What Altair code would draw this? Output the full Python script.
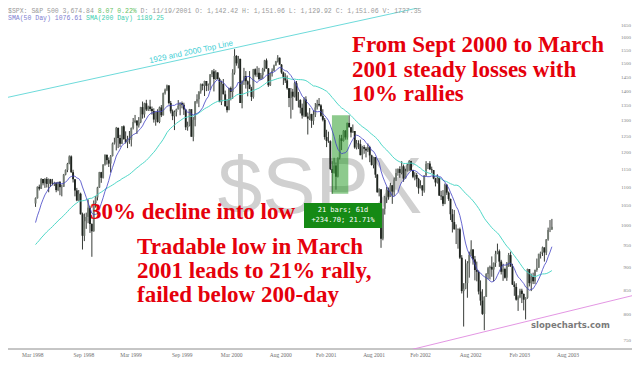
import altair as alt
import pandas as pd

# ---------------- data (weekly S&P 500 bars) ----------------
# closes before the visible window, only used to warm up the moving averages
warm_close = [848, 858, 893, 898, 887, 916, 917, 915, 938, 947, 933, 900, 923, 899,
              929, 923, 950, 945, 965, 966, 944, 941, 915, 927, 928, 963, 955, 983,
              954, 946, 936, 975, 927, 961, 957, 980, 1003, 1021, 1035, 1049, 1055]

cl_1998 = [1069, 1100, 1095, 1122, 1110, 1122, 1108, 1121, 1109, 1108, 1111, 1091,
           1113, 1099, 1100, 1134, 1147, 1165, 1187, 1141, 1121, 1090, 1063, 1081, 1027,
           973, 1009, 1020, 1044, 1002, 984, 1056, 1071, 1098, 1141, 1125, 1163, 1192,
           1176, 1166, 1188, 1226, 1229]
hi_1998 = [1071, 1101, 1106, 1124, 1122, 1124, 1127, 1123, 1122, 1122, 1114, 1113,
           1114, 1116, 1106, 1136, 1149, 1168, 1190, 1190, 1148, 1121, 1097, 1091, 1084,
           1031, 1029, 1031, 1066, 1049, 1004, 1063, 1075, 1100, 1142, 1142, 1164, 1193,
           1192, 1184, 1191, 1229, 1244]
lo_1998 = [1046, 1068, 1090, 1094, 1104, 1097, 1098, 1085, 1100, 1104, 1102, 1085,
           1088, 1077, 1074, 1100, 1132, 1141, 1164, 1139, 1112, 1074, 1061, 1062, 1026,
           940, 960, 990, 1004, 980, 923, 983, 1044, 1063, 1097, 1111, 1123, 1160,
           1163, 1156, 1140, 1187, 1223]

cl_1999 = [1275, 1243, 1225, 1280, 1239, 1230, 1239, 1238, 1275, 1294, 1299, 1283,
           1293, 1343, 1319, 1356, 1335, 1345, 1337, 1330, 1302, 1327, 1294, 1342, 1316,
           1391, 1403, 1418, 1357, 1329, 1313, 1327, 1336, 1348, 1357, 1351, 1335, 1277,
           1282, 1336, 1247, 1301, 1362, 1370, 1397, 1422, 1417, 1434, 1417, 1421, 1458, 1469]
hi_1999 = [1278, 1276, 1253, 1280, 1283, 1264, 1250, 1265, 1276, 1307, 1317, 1298,
           1310, 1344, 1362, 1358, 1368, 1348, 1368, 1345, 1339, 1328, 1336, 1345, 1350,
           1393, 1407, 1421, 1419, 1364, 1335, 1332, 1338, 1367, 1358, 1362, 1358, 1336,
           1295, 1337, 1335, 1310, 1364, 1387, 1397, 1425, 1425, 1435, 1434, 1425, 1459, 1474]
lo_1999 = [1205, 1212, 1215, 1225, 1239, 1226, 1212, 1225, 1217, 1270, 1290, 1256,
           1276, 1290, 1305, 1308, 1330, 1330, 1330, 1318, 1292, 1282, 1292, 1290, 1310,
           1315, 1386, 1398, 1352, 1322, 1300, 1268, 1312, 1335, 1316, 1339, 1317, 1268,
           1266, 1280, 1247, 1233, 1280, 1355, 1343, 1389, 1401, 1381, 1398, 1399, 1402, 1448]

cl_2000 = [1441, 1465, 1441, 1360, 1424, 1387, 1346, 1333, 1409, 1395, 1464, 1527, 1499,
           1516, 1357, 1434, 1452, 1433, 1421, 1406, 1378, 1477, 1457, 1464, 1441, 1455,
           1478, 1510, 1480, 1419, 1462, 1471, 1491, 1506, 1520, 1494, 1465, 1449, 1436,
           1408, 1374, 1396, 1379, 1426, 1365, 1367, 1341, 1315, 1369, 1312, 1305, 1320]
hi_2000 = [1478, 1473, 1466, 1446, 1435, 1441, 1400, 1370, 1410, 1414, 1477, 1553, 1530,
           1527, 1511, 1436, 1482, 1470, 1436, 1470, 1413, 1478, 1480, 1488, 1482, 1463,
           1482, 1512, 1517, 1481, 1463, 1480, 1494, 1508, 1530, 1521, 1496, 1468, 1462,
           1454, 1409, 1409, 1406, 1432, 1434, 1395, 1370, 1355, 1377, 1380, 1325, 1340]
lo_2000 = [1397, 1438, 1440, 1360, 1350, 1387, 1345, 1325, 1339, 1366, 1371, 1457, 1490,
           1480, 1357, 1339, 1420, 1407, 1380, 1405, 1364, 1372, 1450, 1448, 1438, 1438,
           1442, 1468, 1478, 1413, 1416, 1450, 1470, 1490, 1502, 1494, 1460, 1420, 1427,
           1403, 1343, 1305, 1334, 1376, 1365, 1342, 1322, 1305, 1310, 1310, 1254, 1300]

cl_2001 = [1298, 1318, 1342, 1354, 1349, 1314, 1301, 1246, 1234, 1233, 1150, 1139, 1160,
           1128, 1183, 1242, 1234, 1266, 1245, 1291, 1277, 1260, 1265, 1214, 1226, 1224,
           1191, 1215, 1210, 1205, 1215, 1190, 1162, 1185, 1134, 1085, 1093, 966, 1041,
           1071, 1092, 1073, 1104, 1087, 1120, 1139, 1150, 1139, 1158, 1123, 1144, 1161]
hi_2001 = [1321, 1332, 1357, 1368, 1374, 1353, 1336, 1307, 1269, 1263, 1236, 1173, 1183,
           1169, 1184, 1253, 1253, 1268, 1268, 1292, 1316, 1278, 1286, 1265, 1237, 1236,
           1238, 1219, 1221, 1215, 1226, 1219, 1192, 1186, 1185, 1136, 1096, 1093, 1042,
           1075, 1100, 1098, 1111, 1105, 1126, 1151, 1152, 1158, 1173, 1163, 1151, 1165]
lo_2001 = [1275, 1285, 1310, 1335, 1345, 1311, 1296, 1238, 1215, 1228, 1147, 1081, 1137,
           1092, 1126, 1178, 1206, 1232, 1238, 1238, 1276, 1245, 1260, 1210, 1208, 1209,
           1190, 1178, 1195, 1184, 1200, 1170, 1160, 1152, 1125, 1084, 1074, 944, 962,
           1026, 1056, 1065, 1073, 1054, 1075, 1116, 1131, 1125, 1135, 1114, 1125, 1143]

cl_2002 = [1173, 1146, 1128, 1133, 1122, 1096, 1104, 1090, 1132, 1165, 1166, 1149, 1147,
           1123, 1112, 1125, 1076, 1074, 1054, 1106, 1084, 1067, 1027, 1007, 989, 990,
           989, 921, 847, 852, 864, 908, 928, 940, 917, 893, 889, 846, 827,
           800, 835, 884, 897, 900, 894, 909, 930, 936, 912, 889, 895, 876]
hi_2002 = [1176, 1174, 1148, 1141, 1139, 1125, 1118, 1104, 1132, 1173, 1167, 1173, 1157,
           1147, 1125, 1135, 1126, 1089, 1091, 1109, 1107, 1087, 1068, 1040, 1038, 1001,
           990, 993, 927, 864, 917, 913, 935, 962, 941, 925, 912, 892, 870,
           851, 836, 886, 900, 903, 924, 910, 937, 954, 940, 916, 907, 898]
lo_2002 = [1145, 1145, 1124, 1118, 1100, 1081, 1096, 1075, 1084, 1130, 1150, 1147, 1139,
           1121, 1101, 1109, 1075, 1064, 1048, 1053, 1078, 1062, 1012, 981, 988, 953,
           942, 918, 842, 775, 851, 833, 876, 924, 905, 870, 868, 840, 817,
           798, 768, 835, 873, 872, 878, 868, 900, 929, 900, 883, 869, 874]

cl_2003 = [908, 927, 901, 861, 856, 829, 834, 848, 841, 829, 833, 895, 864,
           878, 868, 893, 898, 930, 933, 945, 933, 964, 987, 988, 995]
hi_2003 = [911, 932, 935, 907, 868, 864, 838, 852, 852, 842, 834, 896, 891,
           885, 887, 894, 919, 930, 935, 947, 945, 965, 993, 1012, 1015]
lo_2003 = [869, 900, 900, 860, 837, 827, 806, 832, 822, 807, 789, 831, 857,
           847, 862, 862, 889, 898, 919, 925, 912, 927, 961, 982, 991]

y_ticks = [750, 800, 850, 900, 950, 1000, 1050, 1100, 1150, 1200, 1250, 1300,
           1350, 1400, 1450, 1500, 1550, 1600, 1650]
x_tick_dates = ["1998-03-03", "1998-09-09", "1999-03-04", "1999-09-11", "2000-03-13",
                "2000-09-12", "2001-03-01", "2001-08-26", "2002-02-15", "2002-08-21",
                "2003-02-20", "2003-08-19"]
x_tick_labels = ["Mar 1998", "Sep 1998", "Mar 1999", "Sep 1999", "Mar 2000", "Aug 2000",
                 "Feb 2001", "Aug 2001", "Feb 2002", "Aug 2002", "Feb 2003", "Aug 2003"]

top_line_dates = ["1997-11-20", "2002-09-16"]
top_line_values = [1374.5, 1779.0]
top_line_label = ["1929 and 2000 Top Line"]
top_label_date = ["1999-10-18"]
top_label_value = [1522.0]

support_dates = ["2001-11-26", "2004-07-07"]
support_values = [725.9, 848.9]

rally_start = ["2001-03-22"]
rally_end = ["2001-05-22"]
rally_low = [1081.19]
rally_high = [1315.89]

header_1 = ["$SPX: S&P 500 3,674.84", "8.07 0.22%",
            "D: 11/19/2001 O: 1,142.42 H: 1,151.06 L: 1,129.92 C: 1,151.06 V: 1727.35"]
header_2 = ["SMA(50 Day) 1076.61", "SMA(200 Day) 1189.25"]
note_top = ["From Sept 2000 to March", "2001 steady losses with", "10% rallies"]
note_decline = "30% decline into low"
note_low = ["Tradable low in March", "2001 leads to 21% rally,", "failed below 200-day"]
box_lines = ["21 bars; 61d", "+234.70; 21.71%"]

# ---------------- tables ----------------
close = cl_1998 + cl_1999 + cl_2000 + cl_2001 + cl_2002 + cl_2003
high = hi_1998 + hi_1999 + hi_2000 + hi_2001 + hi_2002 + hi_2003
low = lo_1998 + lo_1999 + lo_2000 + lo_2001 + lo_2002 + lo_2003
assert len(close) == len(high) == len(low)

dates = pd.date_range("1998-03-13", periods=len(close), freq="W-FRI")
warm_dates = pd.date_range(end="1998-03-06", periods=len(warm_close), freq="W-FRI")
all_close = warm_close + close
opens = all_close[len(warm_close) - 1:-1]

candles = pd.DataFrame({"date": dates.strftime("%Y-%m-%d"), "open": opens,
                        "high": high, "low": low, "close": close})
candles["high"] = candles[["high", "open", "close"]].max(axis=1)
candles["low"] = candles[["low", "open", "close"]].min(axis=1)
candles["dir"] = ["up" if c >= o else "down" for o, c in zip(opens, close)]

series = pd.DataFrame({
    "idx": list(range(len(all_close))),
    "date": list(warm_dates.strftime("%Y-%m-%d")) + list(dates.strftime("%Y-%m-%d")),
    "close": all_close,
})

# ---------------- scales ----------------
def dt(s):
    y, m, d = (int(v) for v in s.split("-"))
    return alt.DateTime(year=y, month=m, date=d, utc=True)

x_scale = alt.Scale(type="utc", domain=[dt("1997-12-19"), dt("2004-03-26")])
y_scale = alt.Scale(type="log", domain=[732.6, 1721.8], nice=False)

X = lambda f: alt.X(f, scale=x_scale, axis=None)
Y = lambda f: alt.Y(f, scale=y_scale, axis=None)
ONE = alt.Data(values=[{}])


def px_text(txt, x, y, **kw):
    return alt.Chart(ONE).mark_text(text=txt, **kw).encode(x=alt.value(x), y=alt.value(y))


# ---------------- layers ----------------
watermark = px_text("$SPX", 312, 205, font="Liberation Sans", fontSize=80,
                    color="#d0d0d0", align="center", baseline="alphabetic")

# axes drawn through the scales
x_line = alt.Chart(ONE).mark_rule(color="#8c8c8c", strokeWidth=1).encode(
    x=alt.value(0), x2=alt.value(624), y=alt.value(341))
x_labels = alt.Chart(pd.DataFrame({"date": x_tick_dates, "label": x_tick_labels})).mark_text(
    font="Liberation Serif", fontSize=5.5, color="#6f6f6f", baseline="middle").encode(
    x=X("date:T"), y=alt.value(347), text="label:N")
y_labels = alt.Chart(pd.DataFrame({"v": y_ticks})).mark_text(
    font="Liberation Serif", fontSize=5, color="#808080", align="right",
    baseline="middle").encode(x=alt.value(623), y=Y("v:Q"), text=alt.Text("v:Q", format="d"))

wicks = alt.Chart(candles).mark_rule(strokeWidth=1, color="#383c38").encode(
    x=X("date:T"), y=Y("low:Q"), y2="high:Q")
bodies = alt.Chart(candles).mark_bar(size=1.9).encode(
    x=X("date:T"), y=Y("open:Q"), y2="close:Q",
    color=alt.Color("dir:N", scale=alt.Scale(domain=["up", "down"],
                                             range=["#727a72", "#1f241f"]), legend=None))

sma = (alt.Chart(series)
       .transform_window(sma50="mean(close)", frame=[-9, 0], sort=[alt.SortField("idx")])
       .transform_window(sma200="mean(close)", frame=[-39, 0], sort=[alt.SortField("idx")])
       .transform_filter(alt.datum.idx >= len(warm_close)))
sma50 = sma.mark_line(color="#4040c4", strokeWidth=0.8).encode(x=X("date:T"), y=Y("sma50:Q"))
sma200 = sma.mark_line(color="#4fd8c8", strokeWidth=1).encode(x=X("date:T"), y=Y("sma200:Q"))

top_line = alt.Chart(pd.DataFrame({"date": top_line_dates, "v": top_line_values})).mark_line(
    color="#5cd6d6", strokeWidth=0.9, clip=True).encode(x=X("date:T"), y=Y("v:Q"))
top_label = alt.Chart(pd.DataFrame({"date": top_label_date, "v": top_label_value,
                                    "t": top_line_label})).mark_text(
    angle=348, font="Liberation Sans", fontSize=8, color="#45cfd6", align="center",
    baseline="bottom", dy=-1).encode(x=X("date:T"), y=Y("v:Q"), text="t:N")
support = alt.Chart(pd.DataFrame({"date": support_dates, "v": support_values})).mark_line(
    color="#e08ae0", strokeWidth=0.9, clip=True).encode(x=X("date:T"), y=Y("v:Q"))

rally = alt.Chart(pd.DataFrame({"s": rally_start, "e": rally_end, "lo": rally_low,
                                "hi": rally_high})).mark_rect(
    color="#2f9e2f", opacity=0.55).encode(x=X("s:T"), x2="e:T", y=Y("lo:Q"), y2="hi:Q")

info_box = alt.Chart(ONE).mark_rect(color="#158a15").encode(
    x=alt.value(296), x2=alt.value(374), y=alt.value(195), y2=alt.value(220))
info_1 = px_text(box_lines[0], 335, 201.5, font="DejaVu Sans Mono", fontSize=7,
                 color="white", align="center", baseline="middle")
info_2 = px_text(box_lines[1], 335, 211.5, font="DejaVu Sans Mono", fontSize=7,
                 color="white", align="center", baseline="middle")

red = dict(font="Liberation Serif", fontWeight="bold", fontSize=23, color="#e5000b",
           align="left", baseline="alphabetic")
notes = [px_text(t, 344, 44 + i * 24.5, **red) for i, t in enumerate(note_top)]
notes.append(px_text(note_decline, 82, 211, **red))
notes += [px_text(t, 129, 246 + i * 24, **red) for i, t in enumerate(note_low)]

cw = 3.9  # monospace advance at this size
mono = dict(font="Liberation Mono", fontSize=6.5, align="left", baseline="middle")
hdr = [
    px_text(header_1[0], 0, 2.5, color="#9a9a9a", **mono),
    px_text(header_1[1], (len(header_1[0]) + 1) * cw, 2.5, color="#66c266", **mono),
    px_text(header_1[2], (len(header_1[0]) + len(header_1[1]) + 2) * cw, 2.5,
            color="#9a9a9a", **mono),
    px_text(header_2[0], 0, 10, color="#8080d0", **mono),
    px_text(header_2[1], (len(header_2[0]) + 1) * cw, 10, color="#3fcfb0", **mono),
]
brand = px_text("slopecharts.com", 523, 317, font="DejaVu Sans", fontWeight="bold",
                fontSize=8.5, color="#7a7a7a", align="left", baseline="middle")

chart = alt.layer(
    watermark, x_line, x_labels, y_labels, wicks, bodies, rally, sma200, sma50,
    top_line, top_label, support, info_box, info_1, info_2, *notes, *hdr, brand
).properties(
    width=624, height=341,
    padding={"left": 0, "top": 0, "right": 0, "bottom": 9},
    autosize=alt.AutoSizeParams(type="none"),
    background="white",
).configure_view(stroke=None)

chart.save("out.html", embed_options={"renderer": "svg", "actions": False})
